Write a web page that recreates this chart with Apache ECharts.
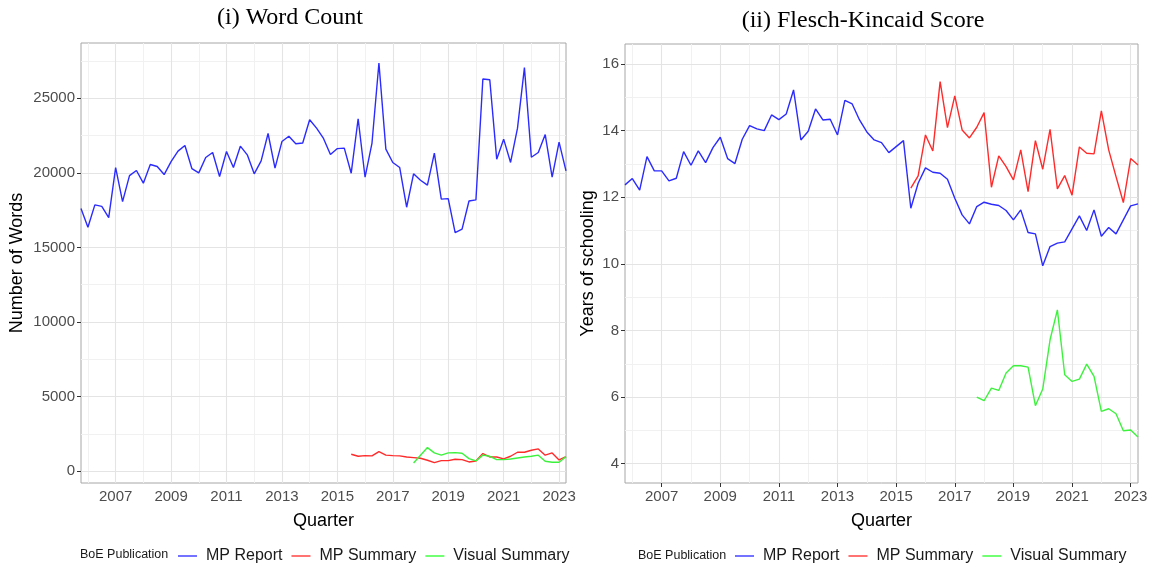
<!DOCTYPE html>
<html><head><meta charset="utf-8">
<script src="https://cdn.jsdelivr.net/npm/echarts@6/dist/echarts.min.js"></script>
<style>html,body{margin:0;padding:0;background:#fff}#c{width:1151px;height:569px}</style>
</head><body><div id="c"></div>
<script>
// ---------- categories (quarterly) ----------
const quarters = [
 '2005 Q4',
 '2006 Q1','2006 Q2','2006 Q3','2006 Q4','2007 Q1','2007 Q2','2007 Q3','2007 Q4',
 '2008 Q1','2008 Q2','2008 Q3','2008 Q4','2009 Q1','2009 Q2','2009 Q3','2009 Q4',
 '2010 Q1','2010 Q2','2010 Q3','2010 Q4','2011 Q1','2011 Q2','2011 Q3','2011 Q4',
 '2012 Q1','2012 Q2','2012 Q3','2012 Q4','2013 Q1','2013 Q2','2013 Q3','2013 Q4',
 '2014 Q1','2014 Q2','2014 Q3','2014 Q4','2015 Q1','2015 Q2','2015 Q3','2015 Q4',
 '2016 Q1','2016 Q2','2016 Q3','2016 Q4','2017 Q1','2017 Q2','2017 Q3','2017 Q4',
 '2018 Q1','2018 Q2','2018 Q3','2018 Q4','2019 Q1','2019 Q2','2019 Q3','2019 Q4',
 '2020 Q1','2020 Q2','2020 Q3','2020 Q4','2021 Q1','2021 Q2','2021 Q3','2021 Q4',
 '2022 Q1','2022 Q2','2022 Q3','2022 Q4','2023 Q1','2023 Q2'
];
// year tick labels (major) and minor grid positions
const majorQuarters = ['2007 Q1','2009 Q1','2011 Q1','2013 Q1','2015 Q1','2017 Q1','2019 Q1','2021 Q1','2023 Q1'];
const minorQuarters = ['2006 Q1','2008 Q1','2010 Q1','2012 Q1','2014 Q1','2016 Q1','2018 Q1','2020 Q1','2022 Q1'];
const wcTicks = [0, 5000, 10000, 15000, 20000, 25000];
const wcMinorTicks = [2500, 7500, 12500, 17500, 22500, 27500];
const fkTicks = [4, 6, 8, 10, 12, 14, 16];
const fkMinorTicks = [5, 7, 9, 11, 13, 15];
const seriesNames = ['MP Report', 'MP Summary', 'Visual Summary'];

// ---------- (i) Word Count ----------
const wcReport = [17600,16350,17850,17750,17000,20350,18070,19810,20150,19300,
 20550,20420,19880,20750,21450,21830,20280,19990,21020,21360,
 19750,21420,20350,21780,21200,19930,20800,22630,20310,22090,
 22450,21940,21990,23550,22990,22300,21220,21620,21650,19970,
 23620,19700,21990,27350,21580,20690,20350,17690,19930,19500,
 19170,21310,18230,18270,15990,16220,18110,18180,26280,26230,
 20910,22250,20690,22990,27040,21040,21360,22560,19700,22050,20130];
const wcSummary = [null,null,null,null,null,null,null,null,null,null,
 null,null,null,null,null,null,null,null,null,null,
 null,null,null,null,null,null,null,null,null,null,
 null,null,null,null,null,null,null,null,null,1140,
 1006,1050,1030,1320,1080,1050,1030,960,917,872,
 738,581,716,716,805,783,626,693,1185,960,
 960,827,1006,1275,1275,1409,1498,1080,1230,760,983];
const wcVisual = [null,null,null,null,null,null,null,null,null,null,
 null,null,null,null,null,null,null,null,null,null,
 null,null,null,null,null,null,null,null,null,null,
 null,null,null,null,null,null,null,null,null,null,
 null,null,null,null,null,null,null,null,559,1073,
 1588,1230,1080,1230,1253,1208,850,693,1080,1006,
 783,783,827,894,960,1006,1080,671,604,604,983];

// ---------- (ii) Flesch-Kincaid Score ----------
const fkReport = [12.37,12.56,12.21,13.22,12.79,12.79,12.49,12.57,13.37,12.96,
 13.39,13.04,13.49,13.80,13.16,13.01,13.74,14.15,14.05,14.00,
 14.47,14.33,14.50,15.22,13.72,13.98,14.65,14.32,14.34,13.87,
 14.91,14.80,14.32,13.96,13.72,13.64,13.34,13.52,13.70,11.67,
 12.42,12.88,12.75,12.72,12.54,11.97,11.47,11.20,11.72,11.85,
 11.79,11.75,11.60,11.32,11.62,10.94,10.90,9.94,10.52,10.62,
 10.66,11.05,11.44,11.00,11.62,10.83,11.09,10.90,11.32,11.74,11.80];
const fkSummary = [null,null,null,null,null,null,null,null,null,null,
 null,null,null,null,null,null,null,null,null,null,
 null,null,null,null,null,null,null,null,null,null,
 null,null,null,null,null,null,null,null,null,12.27,
 12.64,13.87,13.39,15.47,14.09,15.04,14.02,13.78,14.10,14.54,
 12.30,13.24,12.92,12.52,13.42,12.17,13.70,12.84,14.04,12.25,
 12.65,12.06,13.51,13.32,13.30,14.59,13.42,12.62,11.84,13.16,12.97];
const fkVisual = [null,null,null,null,null,null,null,null,null,null,
 null,null,null,null,null,null,null,null,null,null,
 null,null,null,null,null,null,null,null,null,null,
 null,null,null,null,null,null,null,null,null,null,
 null,null,null,null,null,null,null,null,6.00,5.89,
 6.27,6.20,6.72,6.94,6.94,6.90,5.74,6.24,7.72,8.62,
 6.67,6.47,6.54,6.99,6.62,5.57,5.65,5.50,4.99,5.01,4.80];

// ---------- styling ----------
const lineColors = ['#2b2bff', '#ff2b2b', '#3df23d'];
const keyColors = ['#7373ff', '#ff7373', '#73ff73'];
const FONT = 'Liberation Sans, Arial, sans-serif';
const majorLine = {color: '#e4e4e4', width: 1.1, type: 'solid'};
const minorLine = {color: '#f1f1f1', width: 1, type: 'solid'};

function gridLines(idx, yMajor, yMinor) {
  const d = [];
  minorQuarters.forEach(q => d.push({xAxis: q, lineStyle: minorLine}));
  yMinor.forEach(v => d.push({yAxis: v, lineStyle: minorLine}));
  majorQuarters.forEach(q => d.push({xAxis: q, lineStyle: majorLine}));
  yMajor.forEach(v => d.push({yAxis: v, lineStyle: majorLine}));
  return {type: 'line', xAxisIndex: idx, yAxisIndex: idx, data: [], silent: true, z: 1,
    markLine: {silent: true, symbol: 'none', z: 1, animation: false,
      label: {show: false}, emphasis: {disabled: true}, data: d}};
}
function dataSeries(idx, name, values, ci) {
  return {type: 'line', name: name, xAxisIndex: idx, yAxisIndex: idx, data: values,
    showSymbol: false, symbol: 'none', connectNulls: false, z: 3,
    lineStyle: {color: lineColors[ci], width: 1.4}, itemStyle: {color: lineColors[ci]}};
}
const isMajor = (i, v) => majorQuarters.indexOf(v) >= 0;
function xAxisCfg(gi) {
  return {type: 'category', gridIndex: gi, data: quarters, boundaryGap: false,
    axisLine: {show: false},
    axisTick: {show: true, interval: isMajor, length: 4, lineStyle: {color: '#333'}},
    axisLabel: {interval: isMajor, formatter: v => v.slice(0, 4), color: '#4d4d4d',
      fontSize: 15, fontFamily: FONT, margin: 6},
    splitLine: {show: false},
    name: 'Quarter', nameLocation: 'middle', nameGap: 29,
    nameTextStyle: {fontSize: 18, color: '#000', fontFamily: FONT}};
}
function yAxisCfg(gi, mn, mx, ticks, name, gap) {
  return {type: 'value', gridIndex: gi, min: mn, max: mx,
    axisLine: {show: false},
    axisTick: {show: true, customValues: ticks, length: 4, lineStyle: {color: '#333'}},
    axisLabel: {customValues: ticks, formatter: v => String(v), color: '#4d4d4d',
      fontSize: 15, fontFamily: FONT, margin: 6},
    splitLine: {show: false},
    name: name, nameLocation: 'middle', nameGap: gap,
    nameTextStyle: {fontSize: 18, color: '#000', fontFamily: FONT}};
}
function legendCfg(left) {
  return {left: left, top: 548, padding: 0, orient: 'horizontal', icon: 'rect', itemWidth: 19, itemHeight: 2,
    itemGap: 9, selectedMode: false,
    textStyle: {fontSize: 16, color: '#1a1a1a', fontFamily: FONT, padding: [0, 0, 0, 4]},
    data: seriesNames.map((n, i) => ({name: n, icon: 'rect', itemStyle: {color: keyColors[i]}}))};
}

const chart = echarts.init(document.getElementById('c'), null, {renderer: 'canvas'});
chart.setOption({
  animation: false,
  backgroundColor: '#fff',
  grid: [
    {left: 81, top: 43, right: 585, bottom: 86, show: true, borderColor: '#a6a6a6', borderWidth: 1,
     backgroundColor: 'transparent', containLabel: false, outerBoundsMode: 'none'},
    {left: 625, top: 44, right: 13, bottom: 86, show: true, borderColor: '#a6a6a6', borderWidth: 1,
     backgroundColor: 'transparent', containLabel: false, outerBoundsMode: 'none'}
  ],
  xAxis: [xAxisCfg(0), xAxisCfg(1)],
  yAxis: [
    yAxisCfg(0, -785, 28693, wcTicks, 'Number of Words', 55),
    yAxisCfg(1, 3.42, 16.6, fkTicks, 'Years of schooling', 28)
  ],
  legend: [legendCfg(178), legendCfg(735)],
  graphic: [
    {type: 'text', x: 290, y: 18, style: {text: '(i) Word Count', align: 'center', verticalAlign: 'middle',
      font: '24px "Liberation Serif", "Times New Roman", serif', fill: '#000'}},
    {type: 'text', x: 863, y: 21, style: {text: '(ii) Flesch-Kincaid Score', align: 'center', verticalAlign: 'middle',
      font: '24px "Liberation Serif", "Times New Roman", serif', fill: '#000'}},
    {type: 'text', x: 80, y: 555, style: {text: 'BoE Publication', align: 'left', verticalAlign: 'middle',
      font: '12.5px "Liberation Sans", Arial, sans-serif', fill: '#1a1a1a'}},
    {type: 'text', x: 638, y: 556, style: {text: 'BoE Publication', align: 'left', verticalAlign: 'middle',
      font: '12.5px "Liberation Sans", Arial, sans-serif', fill: '#1a1a1a'}}
  ],
  series: [
    gridLines(0, wcTicks, wcMinorTicks),
    gridLines(1, fkTicks, fkMinorTicks),
    dataSeries(0, seriesNames[0], wcReport, 0),
    dataSeries(0, seriesNames[1], wcSummary, 1),
    dataSeries(0, seriesNames[2], wcVisual, 2),
    dataSeries(1, seriesNames[0], fkReport, 0),
    dataSeries(1, seriesNames[1], fkSummary, 1),
    dataSeries(1, seriesNames[2], fkVisual, 2)
  ]
});
</script></body></html>
